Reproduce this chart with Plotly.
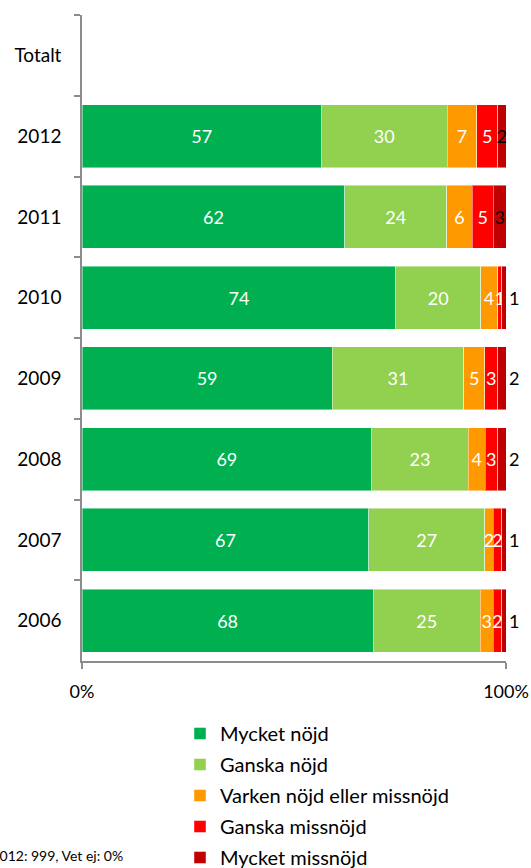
import plotly.graph_objects as go

categories = ["Totalt", "2012", "2011", "2010", "2009", "2008", "2007", "2006"]
series_names = ["Mycket nöjd", "Ganska nöjd", "Varken nöjd eller missnöjd", "Ganska missnöjd", "Mycket missnöjd"]
mycket_nojd = [None, 57, 62, 74, 59, 69, 67, 68]
ganska_nojd = [None, 30, 24, 20, 31, 23, 27, 25]
varken = [None, 7, 6, 4, 5, 4, 2, 3]
ganska_missnojd = [None, 5, 5, 1, 3, 3, 2, 2]
mycket_missnojd = [None, 2, 3, 1, 2, 2, 1, 1]
colors = ["#00B050", "#92D050", "#FF9900", "#FF0000", "#C00000"]
x_tick_vals = [0, 100]
x_tick_text = ["0%", "100%"]
footnote = "Antal svar 2012: 999, Vet ej: 0%"

FONT = "Lato"
all_series = [mycket_nojd, ganska_nojd, varken, ganska_missnojd, mycket_missnojd]

fig = go.Figure()
for i, (name, vals, col) in enumerate(zip(series_names, all_series, colors)):
    last = i == len(all_series) - 1
    if last:
        tpos = ["inside", "inside", "inside", "outside", "outside", "outside", "outside", "outside"]
        tcol = "black"
    else:
        tpos = "inside"
        tcol = "white"
    fig.add_trace(go.Bar(
        y=categories, x=vals, name=name, orientation="h",
        marker=dict(color=col, line=dict(color="rgba(255,255,255,0.45)", width=1)),
        text=[("" if v is None else str(v)) for v in vals],
        textposition=tpos, insidetextanchor="middle", textangle=0,
        constraintext="none", cliponaxis=False,
        textfont=dict(family=FONT, size=18, color=tcol),
        outsidetextfont=dict(family=FONT, size=18, color="black"),
        legendgroup=name, hoverinfo="skip",
    ))

fig.update_layout(
    width=531, height=868,
    margin=dict(l=82, r=25, t=15, b=207, autoexpand=False),
    barmode="stack", barnorm="percent", bargap=0.22,
    plot_bgcolor="white", paper_bgcolor="white",
    font=dict(family=FONT, size=18, color="black"),
    legend=dict(
        x=(180 - 82) / 424, y=(661 - 714) / 646, xanchor="left", yanchor="top",
        traceorder="grouped", tracegroupgap=2,
        font=dict(family=FONT, size=20, color="black"),
        bgcolor="rgba(0,0,0,0)",
    ),
    annotations=[dict(
        text=footnote, xref="paper", yref="paper",
        x=(125 - 82) / 424, y=(661 - 855) / 646, xanchor="right", yanchor="middle",
        showarrow=False, font=dict(family=FONT, size=14, color="black"),
    )],
)
fig.update_yaxes(
    type="category", categoryorder="array", categoryarray=categories,
    autorange="reversed", showline=True, linecolor="#8C8C8C", linewidth=1.5,
    ticks="outside", tickson="boundaries", ticklen=6, tickcolor="#8C8C8C", tickwidth=1.5,
    ticklabelstandoff=15, showgrid=False, zeroline=False,
    tickfont=dict(family=FONT, size=19),
)
fig.update_xaxes(
    range=[0, 100], tickvals=x_tick_vals, ticktext=x_tick_text,
    showline=True, linecolor="#8C8C8C", linewidth=1.5,
    ticks="outside", ticklen=6, tickcolor="#8C8C8C", tickwidth=1.5,
    ticklabelstandoff=8,
    showgrid=False, zeroline=False, tickfont=dict(family=FONT, size=18),
)
fig.write_html("out.html")
